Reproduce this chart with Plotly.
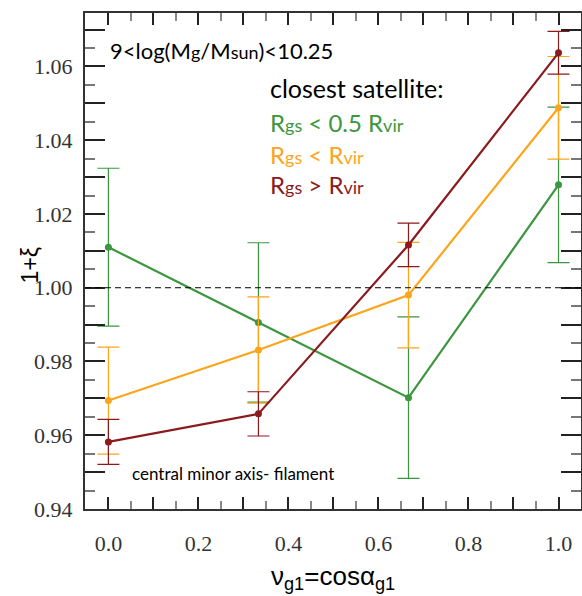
import plotly.graph_objects as go

# ---- data ----
nu = [0.0, 1/3, 2/3, 1.0]
green_y = [1.0110, 0.9906, 0.9702, 1.0279]
green_err = [0.0214, 0.0216, 0.0219, 0.0211]
orange_y = [0.9694, 0.9831, 0.9980, 1.0488]
orange_err = [0.0145, 0.0144, 0.0143, 0.0139]
maroon_y = [0.9582, 0.9658, 1.0116, 1.0637]
maroon_err = [0.0061, 0.0060, 0.0059, 0.0058]

series_names = ["R<sub>gs</sub> < 0.5 R<sub>vir</sub>", "R<sub>gs</sub> < R<sub>vir</sub>", "R<sub>gs</sub> > R<sub>vir</sub>"]
colors = ["#3b963f", "#fba51c", "#8b1a1d"]

x_tickvals = [0.0, 0.1, 0.2, 0.3, 0.4, 0.5, 0.6, 0.7, 0.8, 0.9, 1.0]
x_ticktext = ["0.0", "", "0.2", "", "0.4", "", "0.6", "", "0.8", "", "1.0"]
y_tickvals = [0.94, 0.95, 0.96, 0.97, 0.98, 0.99, 1.00, 1.01, 1.02, 1.03, 1.04, 1.05, 1.06, 1.07]
y_ticktext = ["0.94", "", "0.96", "", "0.98", "", "1.00", "", "1.02", "", "1.04", "", "1.06", ""]

fig = go.Figure()

# reference line at 1+xi = 1
fig.add_shape(type="line", xref="paper", yref="y", x0=0, x1=1, y0=1.0, y1=1.0,
              line=dict(color="black", width=1, dash="6px,4px"))

for ys, errs, col, name in zip([green_y, orange_y, maroon_y],
                               [green_err, orange_err, maroon_err], colors, series_names):
    fig.add_trace(go.Scatter(
        x=nu, y=ys, mode="lines+markers", name=name,
        line=dict(color=col, width=2.2),
        marker=dict(color=col, size=7),
        error_y=dict(type="data", array=errs, visible=True, color=col, thickness=1.2, width=11),
        showlegend=False,
    ))

tickfont = dict(family="Liberation Serif, Times New Roman, serif", size=22, color="#333333")
common = dict(showline=True, linecolor="#333333", linewidth=2, mirror="allticks",
              ticks="inside", tickcolor="#222222", tickwidth=1.5, showgrid=False,
              zeroline=False, tickfont=tickfont, automargin=False)

fig.update_xaxes(range=[-0.052, 1.05], tickmode="array", tickvals=x_tickvals, ticktext=x_ticktext,
                 ticklen=12, ticklabelstandoff=14,
                 minor=dict(dtick=0.05, ticks="inside", ticklen=8, tickcolor="#888888", tickwidth=1.5),
                 **common)
fig.update_yaxes(range=[0.94, 1.0745], tickmode="array", tickvals=y_tickvals, ticktext=y_ticktext,
                 ticklen=20, ticklabelstandoff=6,
                 minor=dict(dtick=0.005, ticks="inside", ticklen=10, tickcolor="#777777", tickwidth=1.5),
                 **common)

sans = "Lato, Open Sans, sans-serif"
small = "<span style='font-size:18px'>%s</span>"
ann = []
ann.append(dict(x=0.0, y=1.0644, xref="x", yref="y", xanchor="left", yanchor="middle",
                text="9<log(M" + small % "g" + "/M" + small % "sun" + ")<10.25",
                font=dict(family=sans, size=22, color="black"), showarrow=False))
ann.append(dict(x=0.355, y=1.0541, xref="x", yref="y", xanchor="left", yanchor="middle",
                text="closest satellite:", font=dict(family=sans, size=25, color="black"), showarrow=False))
legend_y = [1.0449, 1.0360, 1.0279]
legend_txt = ["R" + small % "gs" + " < 0.5 R" + small % "vir",
              "R" + small % "gs" + " < R" + small % "vir",
              "R" + small % "gs" + " > R" + small % "vir"]
for yy, tt, cc in zip(legend_y, legend_txt, colors):
    ann.append(dict(x=0.355, y=yy, xref="x", yref="y", xanchor="left", yanchor="middle",
                    text=tt, font=dict(family=sans, size=24, color=cc), showarrow=False))
ann.append(dict(x=0.047, y=0.9495, xref="x", yref="y", xanchor="left", yanchor="middle",
                text="central minor axis- filament", font=dict(family=sans, size=17, color="black"),
                showarrow=False))
# axis titles
ann.append(dict(x=-0.11, y=0.492, xref="paper", yref="paper", showarrow=False, text="1+ξ",
                xanchor="center", yanchor="middle",
                font=dict(family="Liberation Sans, Arial, sans-serif", size=23, color="black"),
                textangle=-90))
ann.append(dict(x=0.5, y=-0.139, xref="paper", yref="paper", showarrow=False,
                text="ν<sub>g1</sub>=cosα<sub>g1</sub>", xanchor="center", yanchor="middle",
                font=dict(family="Liberation Sans, Arial, sans-serif", size=26, color="black")))

fig.update_layout(width=582, height=596, margin=dict(l=85, r=1, t=13, b=87, autoexpand=False),
                  plot_bgcolor="white", paper_bgcolor="white", annotations=ann)

fig.write_html("out.html", config={"displayModeBar": False},
               post_script="document.body.style.margin='0';document.body.style.overflow='hidden';")
